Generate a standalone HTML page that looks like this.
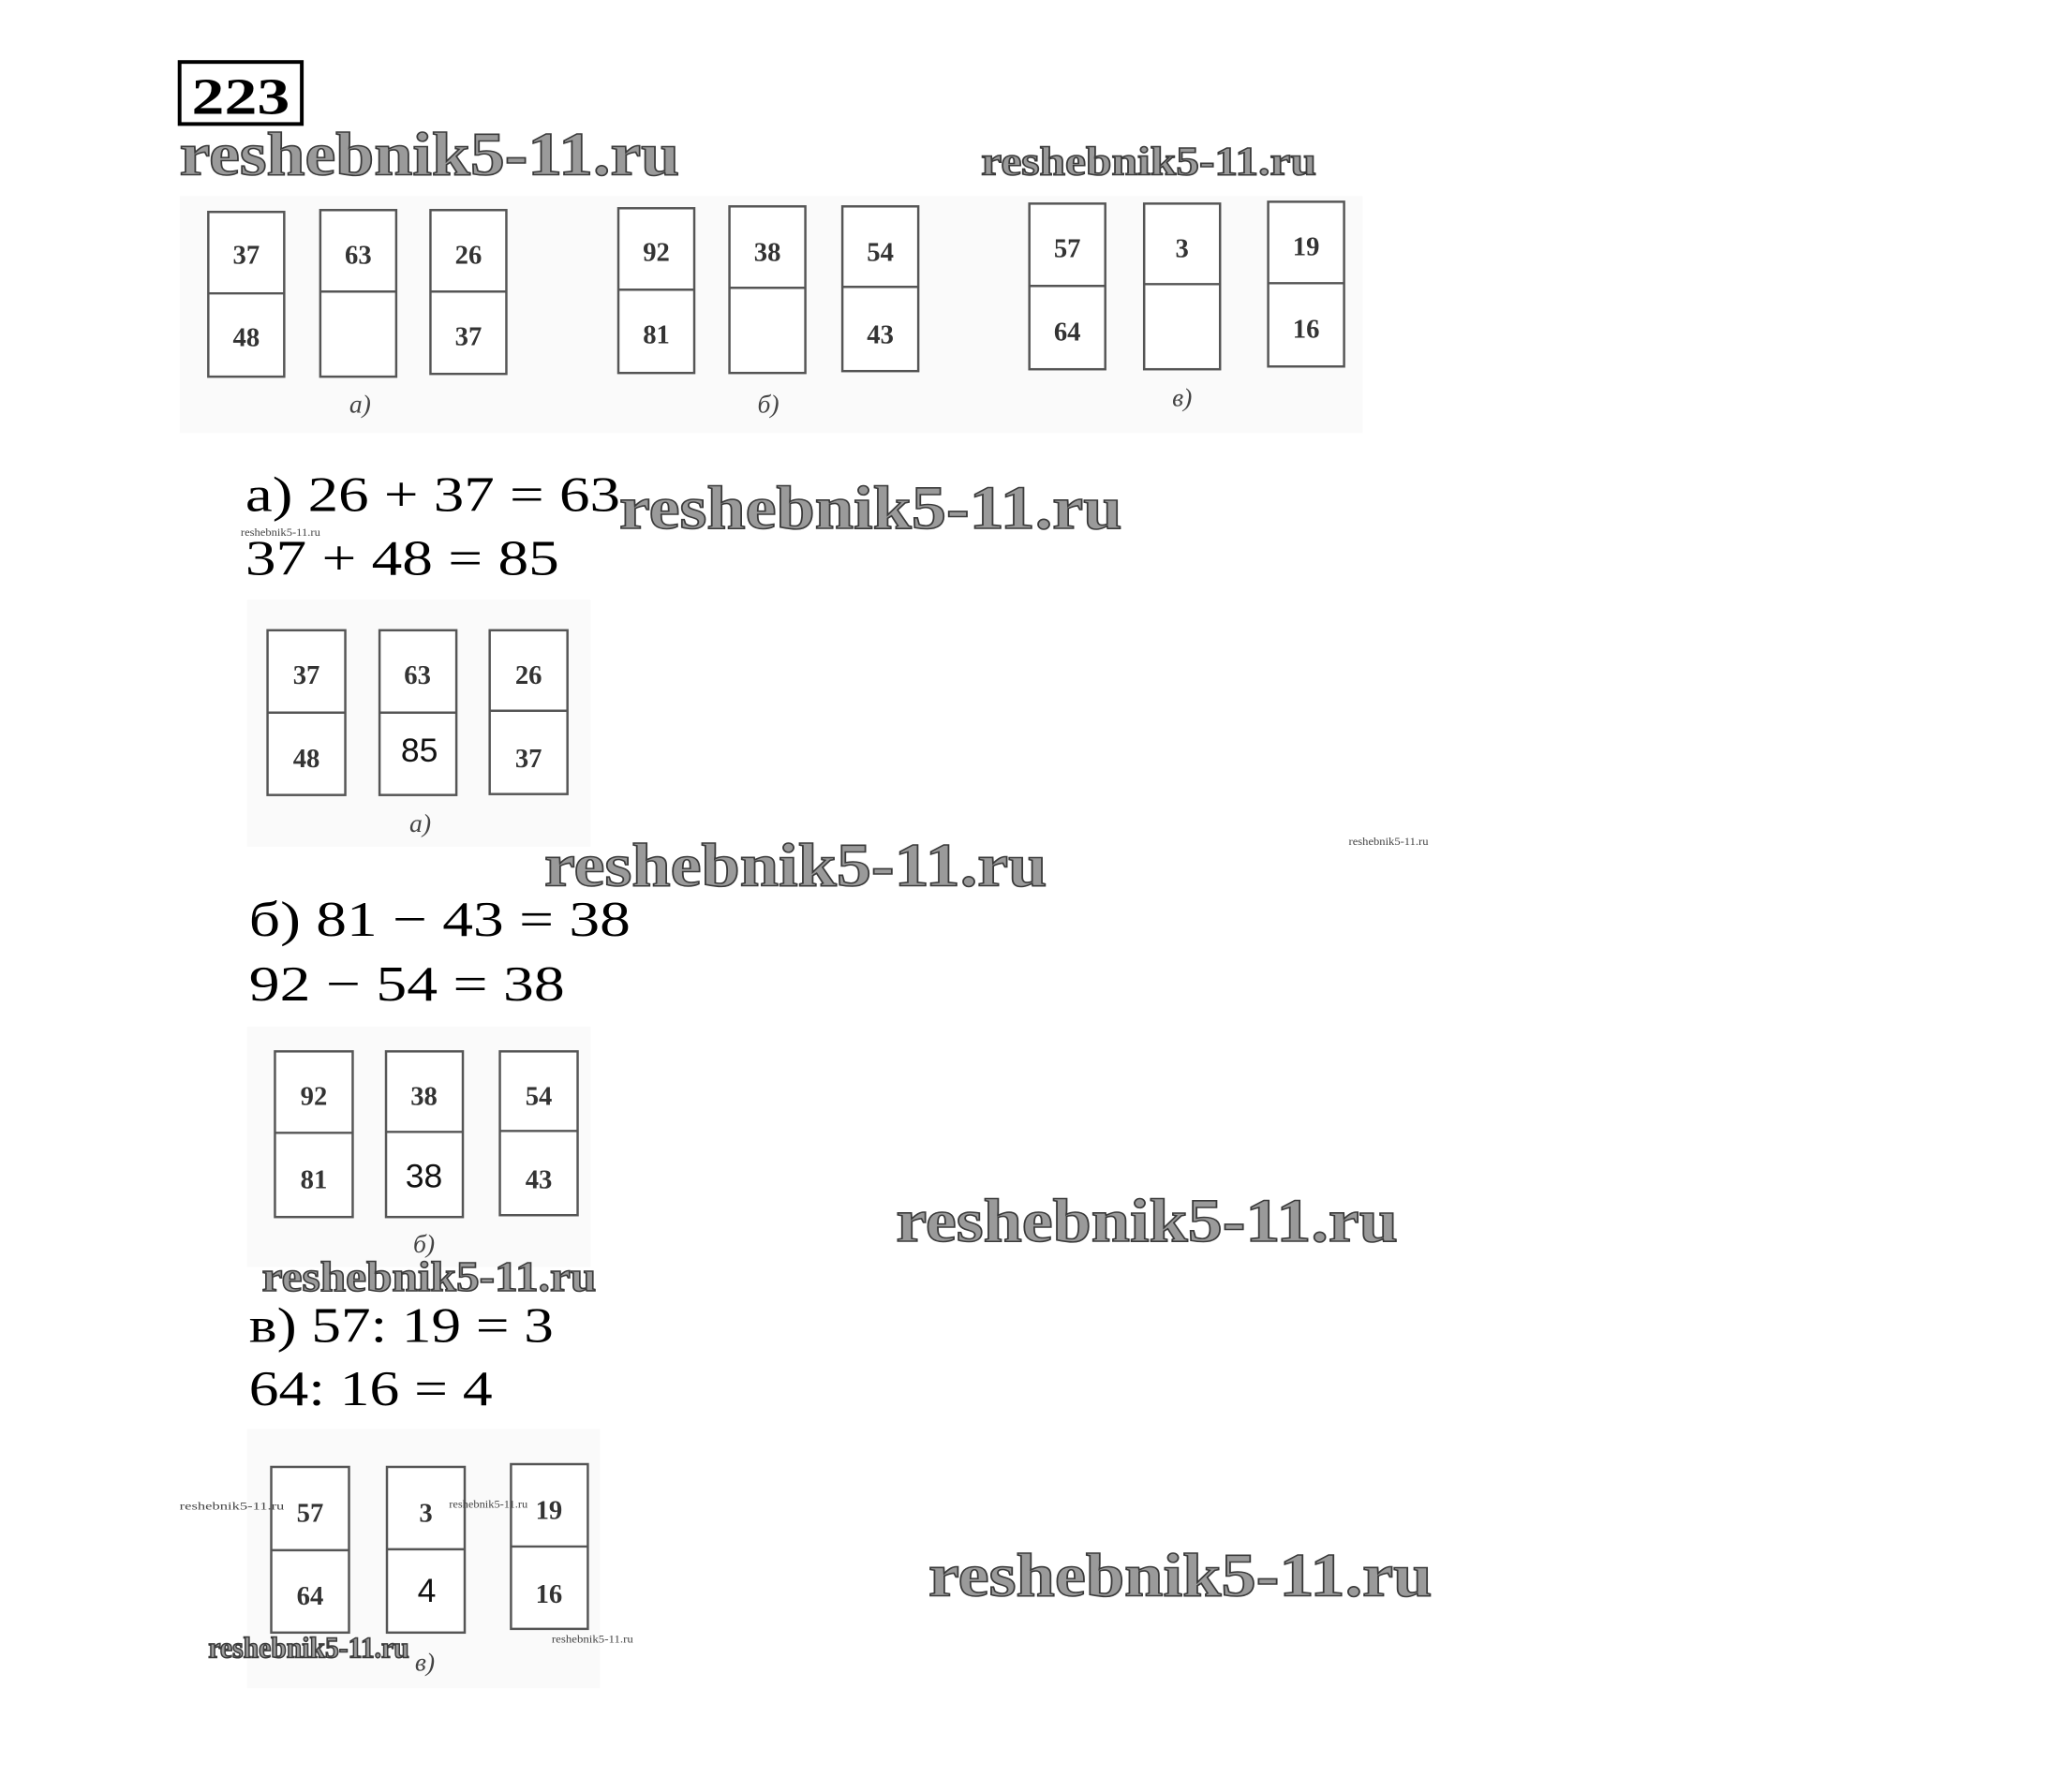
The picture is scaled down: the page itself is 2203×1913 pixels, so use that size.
<!DOCTYPE html>
<html><head><meta charset="utf-8"><style>
html,body{margin:0;padding:0;background:#fff;width:2203px;height:1913px;overflow:hidden}
.wm{font-family:"Liberation Serif",serif;font-weight:bold;fill:#9a9a9a;stroke:#3a3a3a;stroke-width:1.6}
.sm{font-family:"Liberation Serif",serif;font-size:12px;fill:#444}
.eq{font-family:"Liberation Serif","DejaVu Serif",serif;font-size:54px;fill:#000}
.cn{font-family:"Liberation Serif",serif;font-size:29px;fill:#333;text-anchor:middle;font-weight:bold}
.an{font-family:"Liberation Sans",sans-serif;font-size:36px;fill:#111;text-anchor:middle}
.lb{font-family:"Liberation Serif",serif;font-style:italic;font-size:28px;fill:#444;text-anchor:middle}
rect.c{fill:#fff;stroke:#555;stroke-width:2.5}
</style></head><body>
<svg width="2203" height="1913" xmlns="http://www.w3.org/2000/svg">
<g transform="translate(2,-1) scale(0.988)">
<rect x="192" y="68" width="132" height="67" fill="#fff" stroke="#000" stroke-width="4"/>
<text x="258" y="124" text-anchor="middle" font-family="Liberation Serif,serif" font-weight="bold" font-size="56" textLength="106" lengthAdjust="spacingAndGlyphs">223</text>
<text class="wm" x="192" y="190" font-size="66" textLength="540" lengthAdjust="spacingAndGlyphs">reshebnik5-11.ru</text>
<text class="wm" x="1058" y="190" font-size="44" textLength="362" lengthAdjust="spacingAndGlyphs" stroke-width="1.2">reshebnik5-11.ru</text>

<rect x="192" y="213" width="1278" height="256" fill="#fafafa"/>
<g>
<rect class="c" x="223" y="230" width="82" height="178"/><line x1="223" y1="318" x2="305" y2="318" stroke="#555" stroke-width="2.5"/>
<text class="cn" x="264" y="286">37</text><text class="cn" x="264" y="375">48</text>
<rect class="c" x="344" y="228" width="82" height="180"/><line x1="344" y1="316" x2="426" y2="316" stroke="#555" stroke-width="2.5"/>
<text class="cn" x="385" y="286">63</text>
<rect class="c" x="463" y="228" width="82" height="177"/><line x1="463" y1="316" x2="545" y2="316" stroke="#555" stroke-width="2.5"/>
<text class="cn" x="504" y="286">26</text><text class="cn" x="504" y="374">37</text>
<text class="lb" x="387" y="447">а)</text>

<rect class="c" x="666" y="226" width="82" height="178"/><line x1="666" y1="314" x2="748" y2="314" stroke="#555" stroke-width="2.5"/>
<text class="cn" x="707" y="283">92</text><text class="cn" x="707" y="372">81</text>
<rect class="c" x="786" y="224" width="82" height="180"/><line x1="786" y1="312" x2="868" y2="312" stroke="#555" stroke-width="2.5"/>
<text class="cn" x="827" y="283">38</text>
<rect class="c" x="908" y="224" width="82" height="178"/><line x1="908" y1="311" x2="990" y2="311" stroke="#555" stroke-width="2.5"/>
<text class="cn" x="949" y="283">54</text><text class="cn" x="949" y="372">43</text>
<text class="lb" x="828" y="447">б)</text>

<rect class="c" x="1110" y="221" width="82" height="179"/><line x1="1110" y1="310" x2="1192" y2="310" stroke="#555" stroke-width="2.5"/>
<text class="cn" x="1151" y="279">57</text><text class="cn" x="1151" y="369">64</text>
<rect class="c" x="1234" y="221" width="82" height="179"/><line x1="1234" y1="308" x2="1316" y2="308" stroke="#555" stroke-width="2.5"/>
<text class="cn" x="1275" y="279">3</text>
<rect class="c" x="1368" y="219" width="82" height="178"/><line x1="1368" y1="307" x2="1450" y2="307" stroke="#555" stroke-width="2.5"/>
<text class="cn" x="1409" y="277">19</text><text class="cn" x="1409" y="366">16</text>
<text class="lb" x="1275" y="440">в)</text>
</g>

<text class="eq" x="263" y="553" textLength="405" lengthAdjust="spacingAndGlyphs">а) 26 + 37 = 63</text>
<text class="wm" x="667" y="572" font-size="66" textLength="543" lengthAdjust="spacingAndGlyphs">reshebnik5-11.ru</text>
<text class="sm" x="258" y="580" textLength="86" lengthAdjust="spacingAndGlyphs">reshebnik5-11.ru</text>
<text class="eq" x="263" y="622" textLength="339" lengthAdjust="spacingAndGlyphs">37 + 48 = 85</text>

<rect x="265" y="649" width="371" height="267" fill="#fafafa"/>
<rect class="c" x="287" y="682" width="84" height="178"/><line x1="287" y1="771" x2="371" y2="771" stroke="#555" stroke-width="2.5"/>
<text class="cn" x="329" y="740">37</text><text class="cn" x="329" y="830">48</text>
<rect class="c" x="408" y="682" width="83" height="178"/><line x1="408" y1="771" x2="491" y2="771" stroke="#555" stroke-width="2.5"/>
<text class="cn" x="449" y="740">63</text><text class="an" x="451" y="824">85</text>
<rect class="c" x="527" y="682" width="84" height="177"/><line x1="527" y1="769" x2="611" y2="769" stroke="#555" stroke-width="2.5"/>
<text class="cn" x="569" y="740">26</text><text class="cn" x="569" y="830">37</text>
<text class="lb" x="452" y="900">а)</text>

<text class="wm" x="586" y="958" font-size="66" textLength="543" lengthAdjust="spacingAndGlyphs">reshebnik5-11.ru</text>
<text class="sm" x="1455" y="914" textLength="86" lengthAdjust="spacingAndGlyphs">reshebnik5-11.ru</text>
<text class="eq" x="267" y="1012" textLength="412" lengthAdjust="spacingAndGlyphs">б) 81 − 43 = 38</text>
<text class="eq" x="267" y="1082" textLength="341" lengthAdjust="spacingAndGlyphs">92 − 54 = 38</text>

<rect x="265" y="1110" width="371" height="260" fill="#fafafa"/>
<rect class="c" x="295" y="1137" width="84" height="179"/><line x1="295" y1="1225" x2="379" y2="1225" stroke="#555" stroke-width="2.5"/>
<text class="cn" x="337" y="1195">92</text><text class="cn" x="337" y="1285">81</text>
<rect class="c" x="415" y="1137" width="83" height="179"/><line x1="415" y1="1224" x2="498" y2="1224" stroke="#555" stroke-width="2.5"/>
<text class="cn" x="456" y="1195">38</text><text class="an" x="456" y="1284">38</text>
<rect class="c" x="538" y="1137" width="84" height="177"/><line x1="538" y1="1223" x2="622" y2="1223" stroke="#555" stroke-width="2.5"/>
<text class="cn" x="580" y="1195">54</text><text class="cn" x="580" y="1285">43</text>
<text class="lb" x="456" y="1354">б)</text>

<text class="wm" x="281" y="1396" font-size="46" textLength="361" lengthAdjust="spacingAndGlyphs" stroke-width="1.2">reshebnik5-11.ru</text>
<text class="wm" x="966" y="1342" font-size="66" textLength="542" lengthAdjust="spacingAndGlyphs">reshebnik5-11.ru</text>
<text class="eq" x="267" y="1451" textLength="329" lengthAdjust="spacingAndGlyphs">в) 57: 19 = 3</text>
<text class="eq" x="267" y="1519" textLength="263" lengthAdjust="spacingAndGlyphs">64: 16 = 4</text>

<rect x="265" y="1545" width="381" height="280" fill="#fafafa"/>
<rect class="c" x="291" y="1586" width="84" height="179"/><line x1="291" y1="1676" x2="375" y2="1676" stroke="#555" stroke-width="2.5"/>
<text class="cn" x="333" y="1645">57</text><text class="cn" x="333" y="1735">64</text>
<rect class="c" x="416" y="1586" width="84" height="179"/><line x1="416" y1="1675" x2="500" y2="1675" stroke="#555" stroke-width="2.5"/>
<text class="cn" x="458" y="1645">3</text><text class="an" x="459" y="1732">4</text>
<rect class="c" x="550" y="1583" width="83" height="178"/><line x1="550" y1="1672" x2="633" y2="1672" stroke="#555" stroke-width="2.5"/>
<text class="cn" x="591" y="1642">19</text><text class="cn" x="591" y="1733">16</text>
<text class="lb" x="457" y="1806">в)</text>
<text class="sm" x="192" y="1632" font-size="14" textLength="113" lengthAdjust="spacingAndGlyphs">reshebnik5-11.ru</text>
<text class="sm" x="483" y="1630" textLength="85" lengthAdjust="spacingAndGlyphs">reshebnik5-11.ru</text>
<text class="sm" x="594" y="1776" textLength="88" lengthAdjust="spacingAndGlyphs">reshebnik5-11.ru</text>
<text class="wm" x="223" y="1792" font-size="32" textLength="217" lengthAdjust="spacingAndGlyphs" stroke-width="0.8">reshebnik5-11.ru</text>
<text class="wm" x="1001" y="1725" font-size="66" textLength="544" lengthAdjust="spacingAndGlyphs">reshebnik5-11.ru</text>
</g>
</svg>
</body></html>
